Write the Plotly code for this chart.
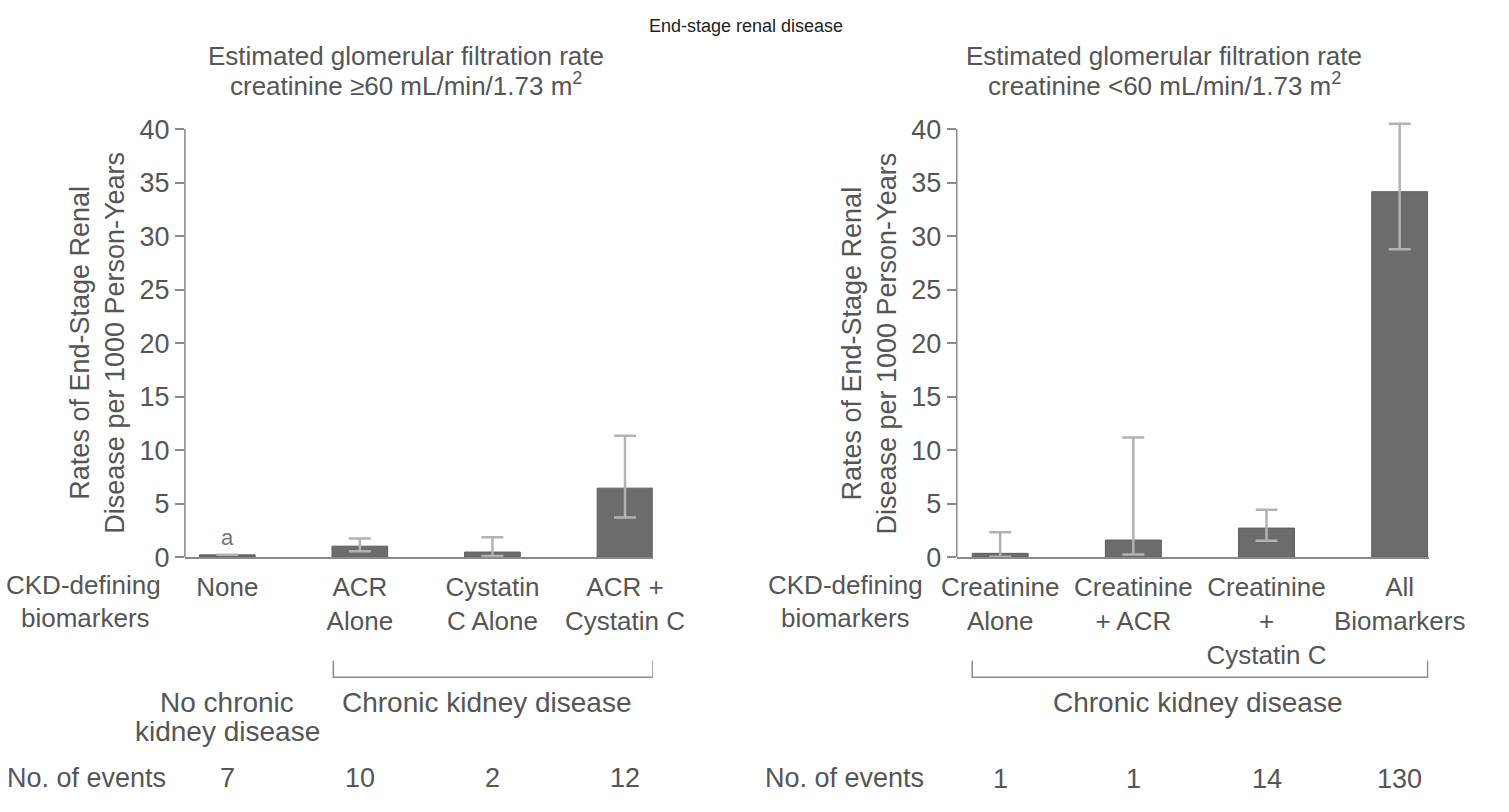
import plotly.graph_objects as go

# ---------------- data ----------------
left_categories = ["None", "ACR Alone", "Cystatin C Alone", "ACR + Cystatin C"]
left_ticktext = ["None", "ACR<br>Alone", "Cystatin<br>C Alone", "ACR +<br>Cystatin C"]
left_rates = [0.22, 1.03, 0.48, 6.45]
left_ci_low = [0.22, 0.55, 0.12, 3.70]
left_ci_high = [0.22, 1.75, 1.87, 11.34]
left_events = ["7", "10", "2", "12"]

right_categories = ["Creatinine Alone", "Creatinine + ACR", "Creatinine + Cystatin C", "All Biomarkers"]
right_ticktext = ["Creatinine<br>Alone", "Creatinine<br>+ ACR", "Creatinine<br>+<br>Cystatin C", "All<br>Biomarkers"]
right_rates = [0.36, 1.60, 2.72, 34.15]
right_ci_low = [0.05, 0.25, 1.54, 28.77]
right_ci_high = [2.33, 11.18, 4.44, 40.50]
right_events = ["1", "1", "14", "130"]

y_ticks = [0, 5, 10, 15, 20, 25, 30, 35, 40]

title_text = "End-stage renal disease"
left_sub = ["Estimated glomerular filtration rate", "creatinine \u226560 mL/min/1.73 m<sup>2</sup>"]
right_sub = ["Estimated glomerular filtration rate", "creatinine <60 mL/min/1.73 m<sup>2</sup>"]
y_title = "Rates of End-Stage Renal<br>Disease per 1000 Person-Years"

# ---------------- style ----------------
FONT = "Liberation Sans, Arial, Helvetica, sans-serif"
TXT = "#555555"
AX = "#8a8a8a"
BAR = "#6c6c6e"
ERR = "#b2b2b2"
W, H = 1509, 812


def px_x(p):
    return p / W


def px_y(p):
    return 1 - p / H


fig = go.Figure()


def add_panel(cats, rates, lo, hi, xa, ya):
    fig.add_trace(go.Bar(
        x=cats, y=rates, xaxis=xa, yaxis=ya, width=0.42,
        marker=dict(color=BAR, line=dict(color="#5e5e60", width=1)),
        error_y=dict(type="data", symmetric=False,
                     array=[h - r for h, r in zip(hi, rates)],
                     arrayminus=[r - l for r, l in zip(rates, lo)],
                     color=ERR, thickness=2.5, width=11),
        showlegend=False, hoverinfo="x+y",
    ))


add_panel(left_categories, left_rates, left_ci_low, left_ci_high, "x", "y")
add_panel(right_categories, right_rates, right_ci_low, right_ci_high, "x2", "y2")

ydom = [px_y(565.5), px_y(117.8)]
yrange = [0, 40.7]

common_x = dict(type="category", showline=True, linecolor=AX, linewidth=1.5,
                showgrid=False, zeroline=False, ticks="",
                tickfont=dict(family=FONT, size=26, color=TXT),
                ticklabelstandoff=6, fixedrange=True)
common_y = dict(range=yrange, showline=False, showgrid=False, zeroline=False,
                tickvals=y_ticks, ticks="outside", ticklen=9, tickwidth=1.5,
                tickcolor=AX, tickfont=dict(family=FONT, size=27, color=TXT),
                fixedrange=True)

fig.update_layout(
    width=W, height=H, autosize=False,
    margin=dict(l=0, r=0, t=0, b=0),
    paper_bgcolor="white", plot_bgcolor="white",
    xaxis=dict(domain=[px_x(175), px_x(660)], range=[-0.32, 3.21],
               categoryarray=left_categories, categoryorder="array",
               tickvals=left_categories, ticktext=left_ticktext, anchor="y", **common_x),
    yaxis=dict(domain=ydom, anchor="x", **common_y),
    xaxis2=dict(domain=[px_x(975), px_x(1464)], range=[-0.326, 3.217],
                categoryarray=right_categories, categoryorder="array",
                tickvals=right_categories, ticktext=right_ticktext, anchor="y2", **common_x),
    yaxis2=dict(domain=ydom, anchor="x2", **common_y),
)

# y-axis lines spanning exactly the tick range (0 to 40)
for xr, yr in [("x domain", "y"), ("x2 domain", "y2")]:
    fig.add_shape(type="line", xref=xr, yref=yr, x0=0, x1=0,
                  y0=y_ticks[0], y1=y_ticks[-1], line=dict(color=AX, width=1.5))

ann = []


def text(x, y, s, size=26, xref="paper", color=TXT, xanchor="center", **kw):
    ann.append(dict(x=x, y=y, xref=xref, yref="paper", text=s, showarrow=False,
                    font=dict(family=FONT, size=size, color=color),
                    xanchor=xanchor, yanchor="middle", **kw))


# titles
text(px_x(757), px_y(20), title_text, size=18, color="#222222")
text(px_x(404), px_y(50), left_sub[0], size=26)
text(px_x(404), px_y(80), left_sub[1], size=26)
text(px_x(1190), px_y(50), right_sub[0], size=26)
text(px_x(1190), px_y(80), right_sub[1], size=26)

# y-axis titles
text(px_x(84.5), px_y(345.5), y_title, size=27, textangle=-90)
text(px_x(884.5), px_y(345.5), y_title, size=27, textangle=-90)

# row headers
text(px_x(70), px_y(594), "CKD-defining", size=26)
text(px_x(72), px_y(628), "biomarkers", size=26)
text(px_x(860), px_y(594), "CKD-defining", size=26)
text(px_x(860), px_y(628), "biomarkers", size=26)

# footnote marker above the "None" bar
ann.append(dict(x=left_categories[0], y=left_rates[0], xref="x", yref="y", text="a",
                showarrow=False, yanchor="bottom", yshift=3,
                font=dict(family=FONT, size=22, color="#777777")))

# group labels
text(0, px_y(715), "No chronic", size=28, xref="x")
text(0, px_y(745), "kidney disease", size=28, xref="x")
text(px_x(488), px_y(715), "Chronic kidney disease", size=28)
text(px_x(1225), px_y(715), "Chronic kidney disease", size=28)

# brackets
for xr, a, b in [("x", 1 - 0.2, 3 + 0.21), ("x2", 0 - 0.21, 3 + 0.21)]:
    fig.add_shape(type="path", xref=xr, yref="paper",
                  path=f"M {a},{px_y(672)} L {a},{px_y(689)} L {b},{px_y(689)} L {b},{px_y(672)}",
                  line=dict(color=AX, width=1.5))

# number of events
text(px_x(73), px_y(792), "No. of events", size=27)
text(px_x(859), px_y(792), "No. of events", size=27)
for i, n in enumerate(left_events):
    text(i, px_y(792), n, size=27, xref="x")
for i, n in enumerate(right_events):
    text(i, px_y(794), n, size=27, xref="x2")

fig.update_layout(annotations=ann)
fig.write_html(
    "out.html",
    post_script="document.documentElement.style.margin='0';document.body.style.margin='0';"
                "document.body.style.overflow='hidden';document.documentElement.style.overflow='hidden';",
)
